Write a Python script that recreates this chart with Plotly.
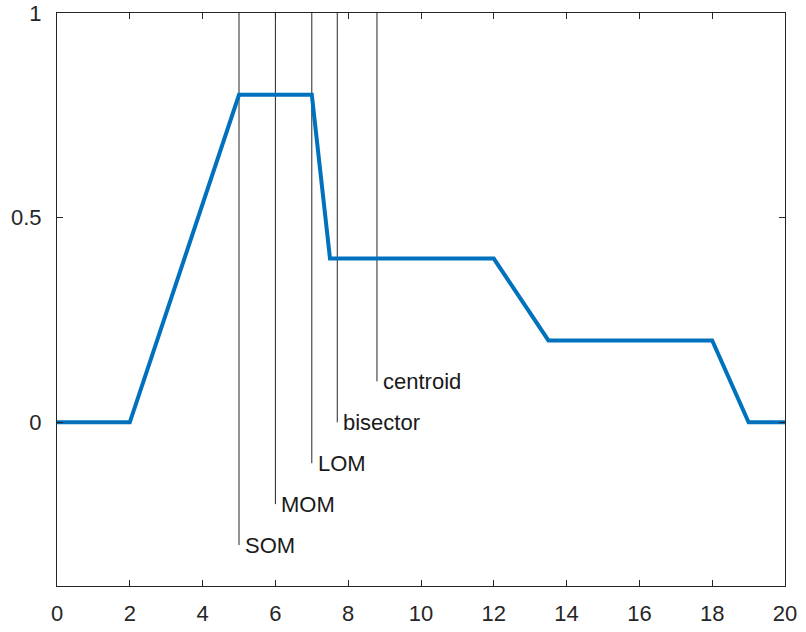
import plotly.graph_objects as go

# membership function breakpoints
x_vals = [0, 2, 5, 7, 7.5, 12, 13.5, 18, 19, 20]
mu_vals = [0, 0, 0.8, 0.8, 0.4, 0.4, 0.2, 0.2, 0, 0]

# defuzzification results
method_labels = ["centroid", "bisector", "MOM", "SOM", "LOM"]
method_x = [8.79, 7.7, 6.0, 5.0, 7.0]
label_y = [0.1, 0.0, -0.2, -0.3, -0.1]

x_ticks = [0, 2, 4, 6, 8, 10, 12, 14, 16, 18, 20]
y_ticks = [0, 0.5, 1]
y_tick_text = ["0", "0.5", "1"]

fig = go.Figure()

for lab, mx, ly in zip(method_labels, method_x, label_y):
    fig.add_trace(go.Scatter(
        x=[mx, mx], y=[1, ly], mode="lines",
        line=dict(color="#262626", width=1),
        showlegend=False, hoverinfo="skip"))
    fig.add_annotation(
        x=mx, y=ly, xref="x", yref="y", text=lab, showarrow=False,
        xanchor="left", yanchor="middle", xshift=4,
        font=dict(family="Liberation Sans, Arial", size=22, color="#1a1a1a"))

fig.add_trace(go.Scatter(
    x=x_vals, y=mu_vals, mode="lines",
    line=dict(color="#0072BD", width=4),
    showlegend=False))

axis_common = dict(
    showline=True, linecolor="#262626", linewidth=1, mirror="ticks",
    ticks="inside", ticklen=6, tickcolor="#262626",
    showgrid=False, zeroline=False, automargin=False,
    ticklabeloverflow="allow",
    tickfont=dict(family="Liberation Sans, Arial", size=22, color="#262626"),
)

fig.update_xaxes(range=[0, 20], tickvals=x_ticks, ticklabelstandoff=8, **axis_common)
fig.update_yaxes(range=[-0.4, 1], tickvals=y_ticks, ticktext=y_tick_text,
                 ticklabelstandoff=10, **axis_common)

fig.update_layout(
    width=806, height=632,
    margin=dict(l=57, r=21, t=13, b=46),
    plot_bgcolor="white", paper_bgcolor="white",
)

fig.write_html("out.html", config={"displayModeBar": False},
               post_script="document.body.style.margin='0';document.body.style.overflow='hidden';")
